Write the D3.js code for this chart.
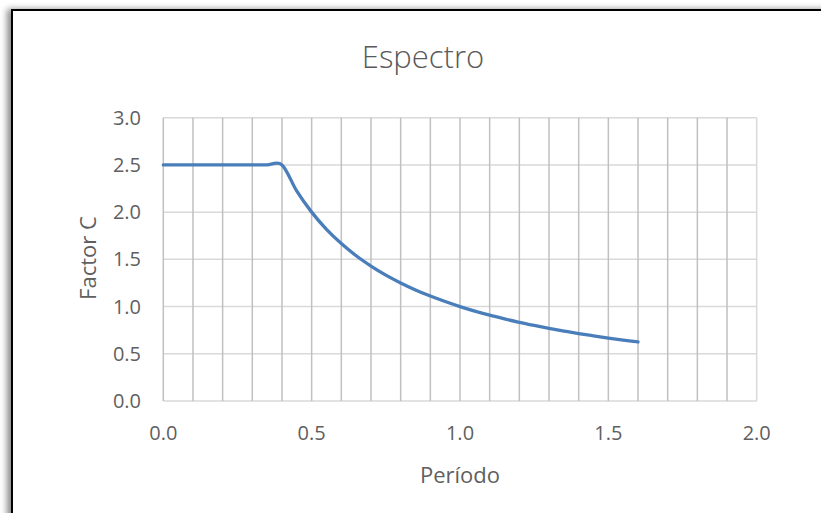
<!DOCTYPE html>
<html><head><meta charset="utf-8">
<script src="https://cdn.jsdelivr.net/npm/d3@7"></script>
<style>html,body{margin:0;padding:0;background:#fff;overflow:hidden}</style>
</head><body>
<svg id="c" width="821" height="513"></svg>
<script>
const periodo = [0,0.05,0.10,0.15,0.20,0.25,0.30,0.35,0.40,0.45,0.50,0.55,0.60,0.65,0.70,0.75,0.80,0.85,0.90,0.95,1.00,1.05,1.10,1.15,1.20,1.25,1.30,1.35,1.40,1.45,1.50,1.55,1.60];
const factorC = [2.5,2.5,2.5,2.5,2.5,2.5,2.5,2.5,2.5,2.222,2.0,1.818,1.667,1.538,1.429,1.333,1.25,1.176,1.111,1.053,1.0,0.952,0.909,0.870,0.833,0.8,0.769,0.741,0.714,0.690,0.667,0.645,0.625];
const xTicks = [0,0.5,1.0,1.5,2.0];
const yTicks = [0,0.5,1.0,1.5,2.0,2.5,3.0];
const xGrid = d3.range(0,21).map(i=>i/10);
const title = "Espectro", xTitle = "Período", yTitle = "Factor C";

const svg = d3.select("#c");
const defs = svg.append("defs");
const f = defs.append("filter").attr("id","sh").attr("x","-5%").attr("y","-5%").attr("width","110%").attr("height","110%");
f.append("feDropShadow").attr("dx",-4).attr("dy",0).attr("stdDeviation",3).attr("flood-color","#000").attr("flood-opacity",0.45);

svg.append("rect").attr("x",12).attr("y",10).attr("width",900).attr("height",600)
  .attr("fill","#fff").attr("stroke","#000").attr("stroke-width",2).attr("filter","url(#sh)");

const x = d3.scaleLinear().domain([0,2]).range([163.3,756.7]);
const y = d3.scaleLinear().domain([0,3]).range([401,117.7]);
const font = "'Open Sans', sans-serif";

const g = svg.append("g");
g.selectAll("line.h").data(yTicks).join("line")
  .attr("x1",x(0)).attr("x2",x(2)).attr("y1",d=>y(d)).attr("y2",d=>y(d))
  .attr("stroke","#d9d9d9").attr("stroke-width",1.5);
g.selectAll("line.v").data(xGrid).join("line")
  .attr("x1",d=>x(d)).attr("x2",d=>x(d)).attr("y1",y(0)).attr("y2",y(3))
  .attr("stroke",(d,i)=>i===20?"#d9d9d9":"#c0c0c0").attr("stroke-width",1.5);

const line = d3.line().x((d,i)=>x(periodo[i])).y(d=>y(d)).curve(d3.curveCardinal.tension(0));
g.append("path").datum(factorC).attr("d",line).attr("fill","none")
  .attr("stroke","#4a7ebb").attr("stroke-width",3.3).attr("stroke-linecap","round");

const fmt = d3.format(".1f");
g.selectAll("text.yt").data(yTicks).join("text")
  .attr("x",141).attr("y",d=>y(d)).attr("dy","0.35em").attr("text-anchor","end")
  .attr("font-family",font).attr("font-size",20).attr("fill","#5f5f5f").text(fmt);
g.selectAll("text.xt").data(xTicks).join("text")
  .attr("x",d=>x(d)).attr("y",433).attr("dy","0.35em").attr("text-anchor","middle")
  .attr("font-family",font).attr("font-size",20).attr("fill","#5f5f5f").text(fmt);

svg.append("text").attr("x",423).attr("y",68).attr("text-anchor","middle")
  .attr("font-family",font).attr("font-weight",300).attr("font-size",31).attr("fill","#595959").text(title);
svg.append("text").attr("x",460).attr("y",475).attr("dy","0.35em").attr("text-anchor","middle")
  .attr("font-family",font).attr("font-size",22).attr("fill","#5f5f5f").text(xTitle);
svg.append("text").attr("transform","translate(88,258) rotate(-90)").attr("dy","0.35em").attr("text-anchor","middle")
  .attr("font-family",font).attr("font-size",22).attr("fill","#5f5f5f").text(yTitle);
</script>
</body></html>
